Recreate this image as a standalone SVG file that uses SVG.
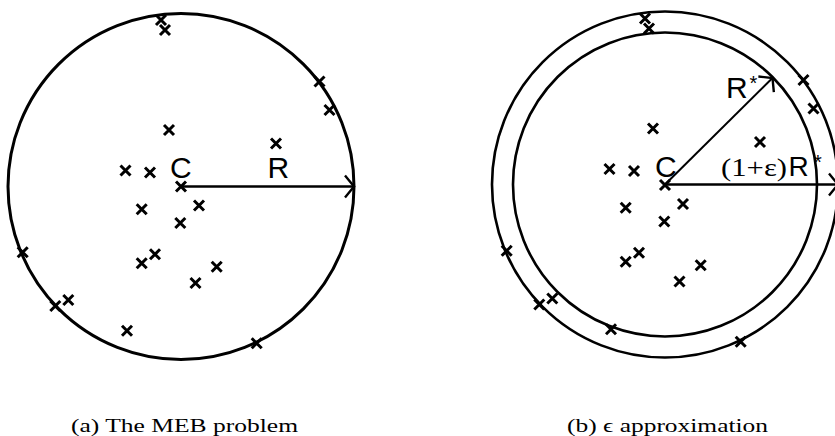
<svg xmlns="http://www.w3.org/2000/svg" xmlns:xlink="http://www.w3.org/1999/xlink" width="835" height="436" viewBox="0 0 835 436">
  <style>
    .ring { fill: none; stroke: #000; stroke-width: 3; }
    .ring2 { fill: none; stroke: #000; stroke-width: 2.6; }
    .arrow { fill: none; stroke: #000; stroke-width: 2.6; marker-end: url(#head); }
    .arrowthin { fill: none; stroke: #000; stroke-width: 2; marker-end: url(#head); }
    .pt { fill: none; stroke: #000; stroke-width: 3; stroke-linecap: butt; }
    .lbl { font-family: "Liberation Sans", Arial, sans-serif; fill: #000; }
    .cap { font-family: "Liberation Serif", "DejaVu Serif", serif; font-size: 18.5px; fill: #000; }
    .mathserif { font-family: "Liberation Serif", "DejaVu Serif", serif; fill: #000; }
  </style>
  <defs>
    <marker id="head" markerUnits="userSpaceOnUse" markerWidth="30" markerHeight="30" refX="0" refY="0" orient="auto" overflow="visible">
      <path d="M-9,-11 L0,0 L-9,11" fill="none" stroke="#000" stroke-width="2.4"/>
    </marker>
    <path id="x" d="M-5,-5 L5,5 M5,-5 L-5,5"/>
  </defs>

  <rect width="835" height="436" fill="#fff"/>

  <!-- Panel (a) -->
  <g id="panel-a">
    <g id="ball-a">
      <circle class="ring" cx="181" cy="186.5" r="173"/>
    </g>
    <g id="points-a" class="pt">
      <use id="a1" xlink:href="#x" x="161" y="20"/>
      <use id="a2" xlink:href="#x" x="165" y="30"/>
      <use id="a3" xlink:href="#x" x="319.5" y="81.5"/>
      <use id="a4" xlink:href="#x" x="329.5" y="110"/>
      <use id="a5" xlink:href="#x" x="169" y="130"/>
      <use id="a6" xlink:href="#x" x="276" y="143.5"/>
      <use id="a7" xlink:href="#x" x="125.5" y="170.5"/>
      <use id="a8" xlink:href="#x" x="150" y="172.5"/>
      <use id="a9" xlink:href="#x" x="181" y="186.5"/>
      <use id="a10" xlink:href="#x" x="199" y="205.5"/>
      <use id="a11" xlink:href="#x" x="141.7" y="209.3"/>
      <use id="a12" xlink:href="#x" x="180.3" y="223"/>
      <use id="a13" xlink:href="#x" x="22.7" y="252.3"/>
      <use id="a14" xlink:href="#x" x="155" y="254.3"/>
      <use id="a15" xlink:href="#x" x="141.7" y="263.3"/>
      <use id="a16" xlink:href="#x" x="216.7" y="266.7"/>
      <use id="a17" xlink:href="#x" x="195.5" y="283"/>
      <use id="a18" xlink:href="#x" x="55.3" y="306"/>
      <use id="a19" xlink:href="#x" x="68.3" y="300"/>
      <use id="a20" xlink:href="#x" x="127" y="330.7"/>
      <use id="a21" xlink:href="#x" x="256.7" y="343.3"/>
    </g>
    <g id="connectors-a">
      <line class="arrow" x1="181" y1="186.5" x2="354" y2="186.5"/>
    </g>
    <g id="labels-a">
      <text class="lbl" x="170" y="178" font-size="30">C</text>
      <text class="lbl" x="267.5" y="178" font-size="30">R</text>
    </g>
    <text class="cap" x="71" y="432" textLength="227" lengthAdjust="spacingAndGlyphs">(a) The MEB problem</text>
  </g>

  <!-- Panel (b) -->
  <g id="panel-b">
    <g id="ball-b">
      <circle class="ring2" cx="665" cy="184.5" r="173"/>
      <circle class="ring2" cx="665" cy="184.5" r="152"/>
    </g>
    <g id="points-b" class="pt" transform="translate(484,-1.5)">
      <use id="b1" xlink:href="#x" x="161" y="20"/>
      <use id="b2" xlink:href="#x" x="165" y="30"/>
      <use id="b3" xlink:href="#x" x="319.5" y="81.5"/>
      <use id="b4" xlink:href="#x" x="329.5" y="110"/>
      <use id="b5" xlink:href="#x" x="169" y="130"/>
      <use id="b6" xlink:href="#x" x="276" y="143.5"/>
      <use id="b7" xlink:href="#x" x="125.5" y="170.5"/>
      <use id="b8" xlink:href="#x" x="150" y="172.5"/>
      <use id="b9" xlink:href="#x" x="181" y="186.5"/>
      <use id="b10" xlink:href="#x" x="199" y="205.5"/>
      <use id="b11" xlink:href="#x" x="141.7" y="209.3"/>
      <use id="b12" xlink:href="#x" x="180.3" y="223"/>
      <use id="b13" xlink:href="#x" x="22.7" y="252.3"/>
      <use id="b14" xlink:href="#x" x="155" y="254.3"/>
      <use id="b15" xlink:href="#x" x="141.7" y="263.3"/>
      <use id="b16" xlink:href="#x" x="216.7" y="266.7"/>
      <use id="b17" xlink:href="#x" x="195.5" y="283"/>
      <use id="b18" xlink:href="#x" x="55.3" y="306"/>
      <use id="b19" xlink:href="#x" x="68.3" y="300"/>
      <use id="b20" xlink:href="#x" x="127" y="330.7"/>
      <use id="b21" xlink:href="#x" x="256.7" y="343.3"/>
    </g>
    <g id="connectors-b">
      <line class="arrow" x1="665" y1="184.5" x2="838" y2="184.5"/>
      <line class="arrowthin" x1="665" y1="184.5" x2="772.5" y2="78"/>
    </g>
    <g id="labels-b">
      <text class="lbl" x="655" y="177" font-size="30">C</text>
      <text class="lbl" x="726" y="98" font-size="30">R</text>
      <text class="lbl" x="749.5" y="90" font-size="20">*</text>
      <text class="mathserif" x="721" y="176" font-size="25" textLength="66" lengthAdjust="spacingAndGlyphs">(1+ε)</text>
      <text class="lbl" x="788.5" y="176" font-size="28">R</text>
      <text class="lbl" x="814" y="169" font-size="20">*</text>
    </g>
    <text class="cap" x="567" y="432" textLength="201" lengthAdjust="spacingAndGlyphs">(b) ϵ approximation</text>
  </g>
</svg>
